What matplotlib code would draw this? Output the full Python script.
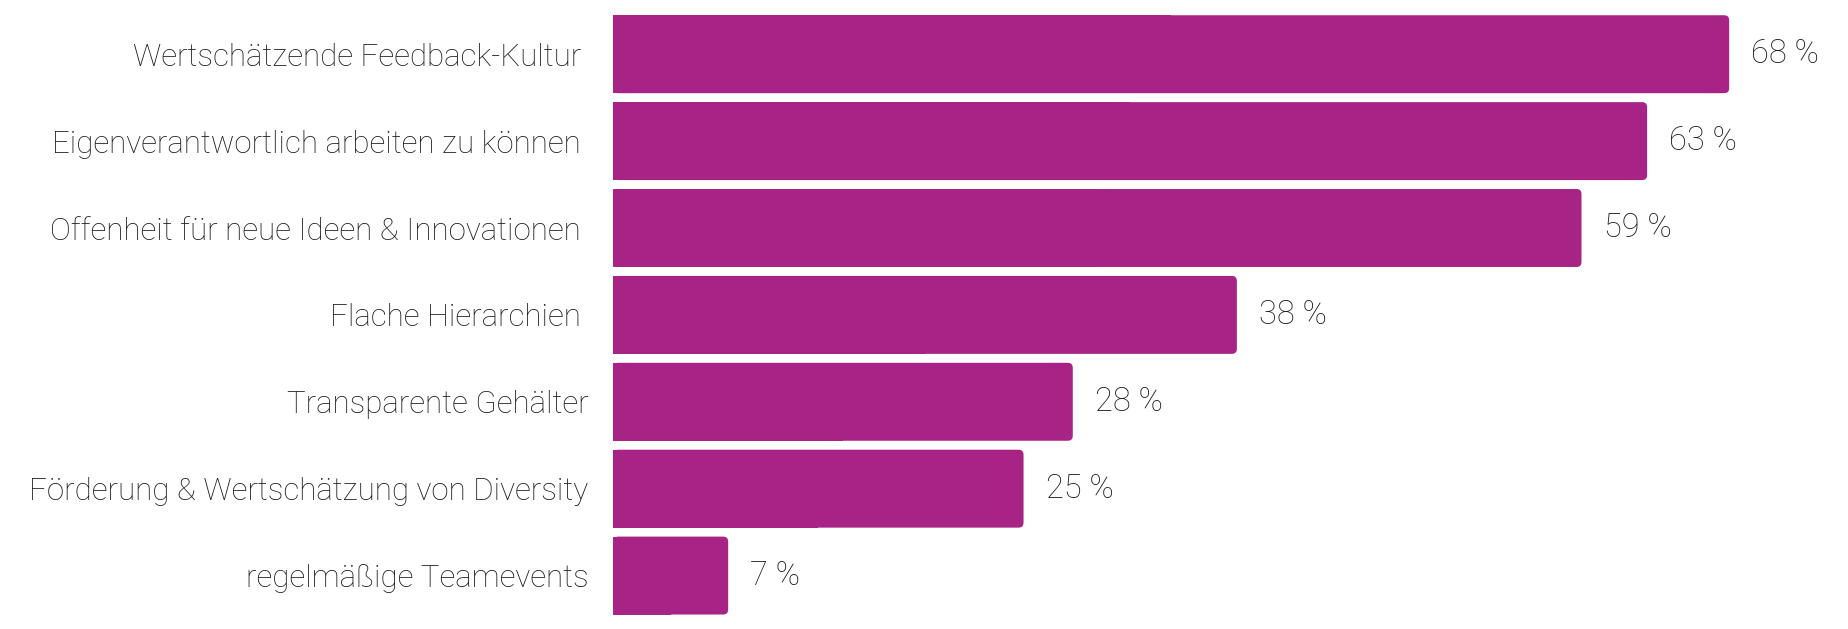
import matplotlib
matplotlib.use("Agg")
import matplotlib.pyplot as plt
from matplotlib.patches import FancyBboxPatch, Rectangle

# data
labels = [
    "Wertschätzende Feedback-Kultur ",
    "Eigenverantwortlich arbeiten zu können ",
    "Offenheit für neue Ideen & Innovationen ",
    "Flache Hierarchien ",
    "Transparente Gehälter",
    "Förderung & Wertschätzung von Diversity",
    "regelmäßige Teamevents",
]
values = [68, 63, 59, 38, 28, 25, 7]
value_labels = ["68 %", "63 %", "59 %", "38 %", "28 %", "25 %", "7 %"]

bar_color = "#A72385"
text_color = "#1c1c1c"
plt.rcParams['font.family'] = ['Roboto', 'DejaVu Sans']

W, H, DPI = 1848, 629, 100
fig = plt.figure(figsize=(W / DPI, H / DPI), dpi=DPI)
ax = fig.add_axes([613.3 / W, 0, 1 - 613.3 / W, 1])

ypos = list(range(len(labels)))
bars = ax.barh(ypos, values, height=0.897, color=bar_color, alpha=0)
ax.set_xlim(0, (W - 613.3) / 16.41)
ax.set_ylim(6.615, -0.624)

# rounded right corners, square left corners
xpp = ((W - 613.3) / 16.41) / (W - 613.3)   # x units per pixel
ypp = (6.615 + 0.624) / H                   # y units per pixel
r = 5 * xpp
for b in bars:
    x0, y0, w, h = b.get_x(), b.get_y(), b.get_width(), b.get_height()
    ax.add_patch(FancyBboxPatch((x0, y0), w, h,
                                boxstyle=f"round,pad=0,rounding_size={r}",
                                mutation_aspect=ypp / xpp,
                                fc=bar_color, ec="none"))
    ax.add_patch(Rectangle((x0, y0), w / 2, h, fc=bar_color, ec="none"))

for y, v, s in zip(ypos, values, value_labels):
    ax.annotate(s, (v, y), xytext=(16, 0), textcoords="offset points",
                va="center", ha="left", fontsize=23.5, fontweight="light",
                color=text_color)

ax.set_yticks(ypos)
ax.set_yticklabels(labels, fontsize=22.5, fontweight="light", color=text_color)
ax.tick_params(axis="y", length=0, pad=18)
ax.set_xticks([])
for sp in ax.spines.values():
    sp.set_visible(False)

fig.savefig("out.png", dpi=DPI)
